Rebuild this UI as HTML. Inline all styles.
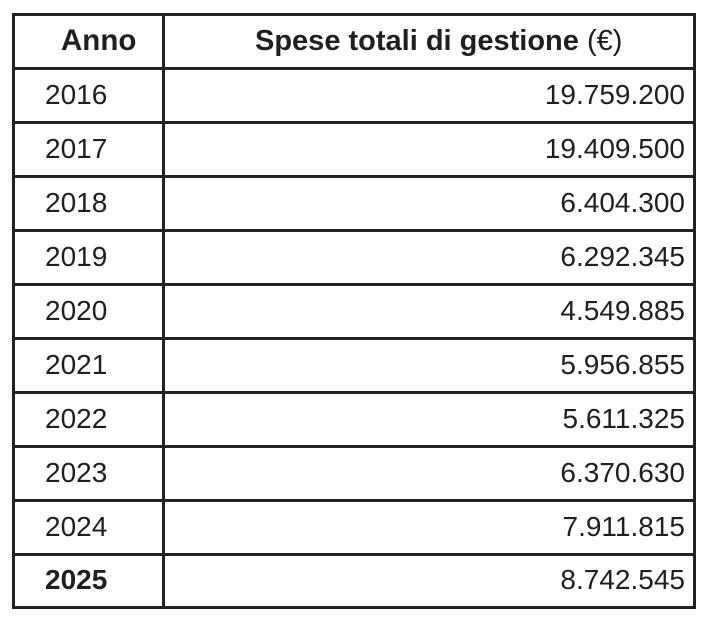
<!DOCTYPE html>
<html><head><meta charset="utf-8"><style>
body{margin:0;width:706px;height:620px;background:#fff;position:relative;overflow:hidden;font-family:"Liberation Sans",sans-serif;color:#1f1f1f}
.h{position:absolute;left:12px;width:684px;height:3px;background:#222}
.v{position:absolute;top:13px;height:596px;width:3px;background:#222}
.t{position:absolute;height:54px;line-height:54px;font-size:28px;white-space:nowrap}
.y{left:45px}
.n{right:21px;text-align:right}
</style></head><body>
<div class="h" style="top:13px"></div>
<div class="h" style="top:67px"></div>
<div class="h" style="top:121px"></div>
<div class="h" style="top:175px"></div>
<div class="h" style="top:229px"></div>
<div class="h" style="top:283px"></div>
<div class="h" style="top:337px"></div>
<div class="h" style="top:391px"></div>
<div class="h" style="top:445px"></div>
<div class="h" style="top:499px"></div>
<div class="h" style="top:553px"></div>
<div class="h" style="top:606px"></div>
<div class="v" style="left:12px"></div>
<div class="v" style="left:162px"></div>
<div class="v" style="left:693px"></div>

<div class="t" style="top:14px;left:61px;font-weight:bold;font-size:29.5px">Anno</div>
<div class="t" style="top:14px;left:255px;font-size:29px"><b>Spese totali di gestione</b> (€)</div>

<div class="t y" style="top:68px">2016</div><div class="t n" style="top:68px">19.759.200</div>
<div class="t y" style="top:122px">2017</div><div class="t n" style="top:122px">19.409.500</div>
<div class="t y" style="top:176px">2018</div><div class="t n" style="top:176px">6.404.300</div>
<div class="t y" style="top:230px">2019</div><div class="t n" style="top:230px">6.292.345</div>
<div class="t y" style="top:284px">2020</div><div class="t n" style="top:284px">4.549.885</div>
<div class="t y" style="top:338px">2021</div><div class="t n" style="top:338px">5.956.855</div>
<div class="t y" style="top:392px">2022</div><div class="t n" style="top:392px">5.611.325</div>
<div class="t y" style="top:446px">2023</div><div class="t n" style="top:446px">6.370.630</div>
<div class="t y" style="top:500px">2024</div><div class="t n" style="top:500px">7.911.815</div>
<div class="t y" style="top:553px;font-weight:bold">2025</div><div class="t n" style="top:553px">8.742.545</div>
</body></html>
